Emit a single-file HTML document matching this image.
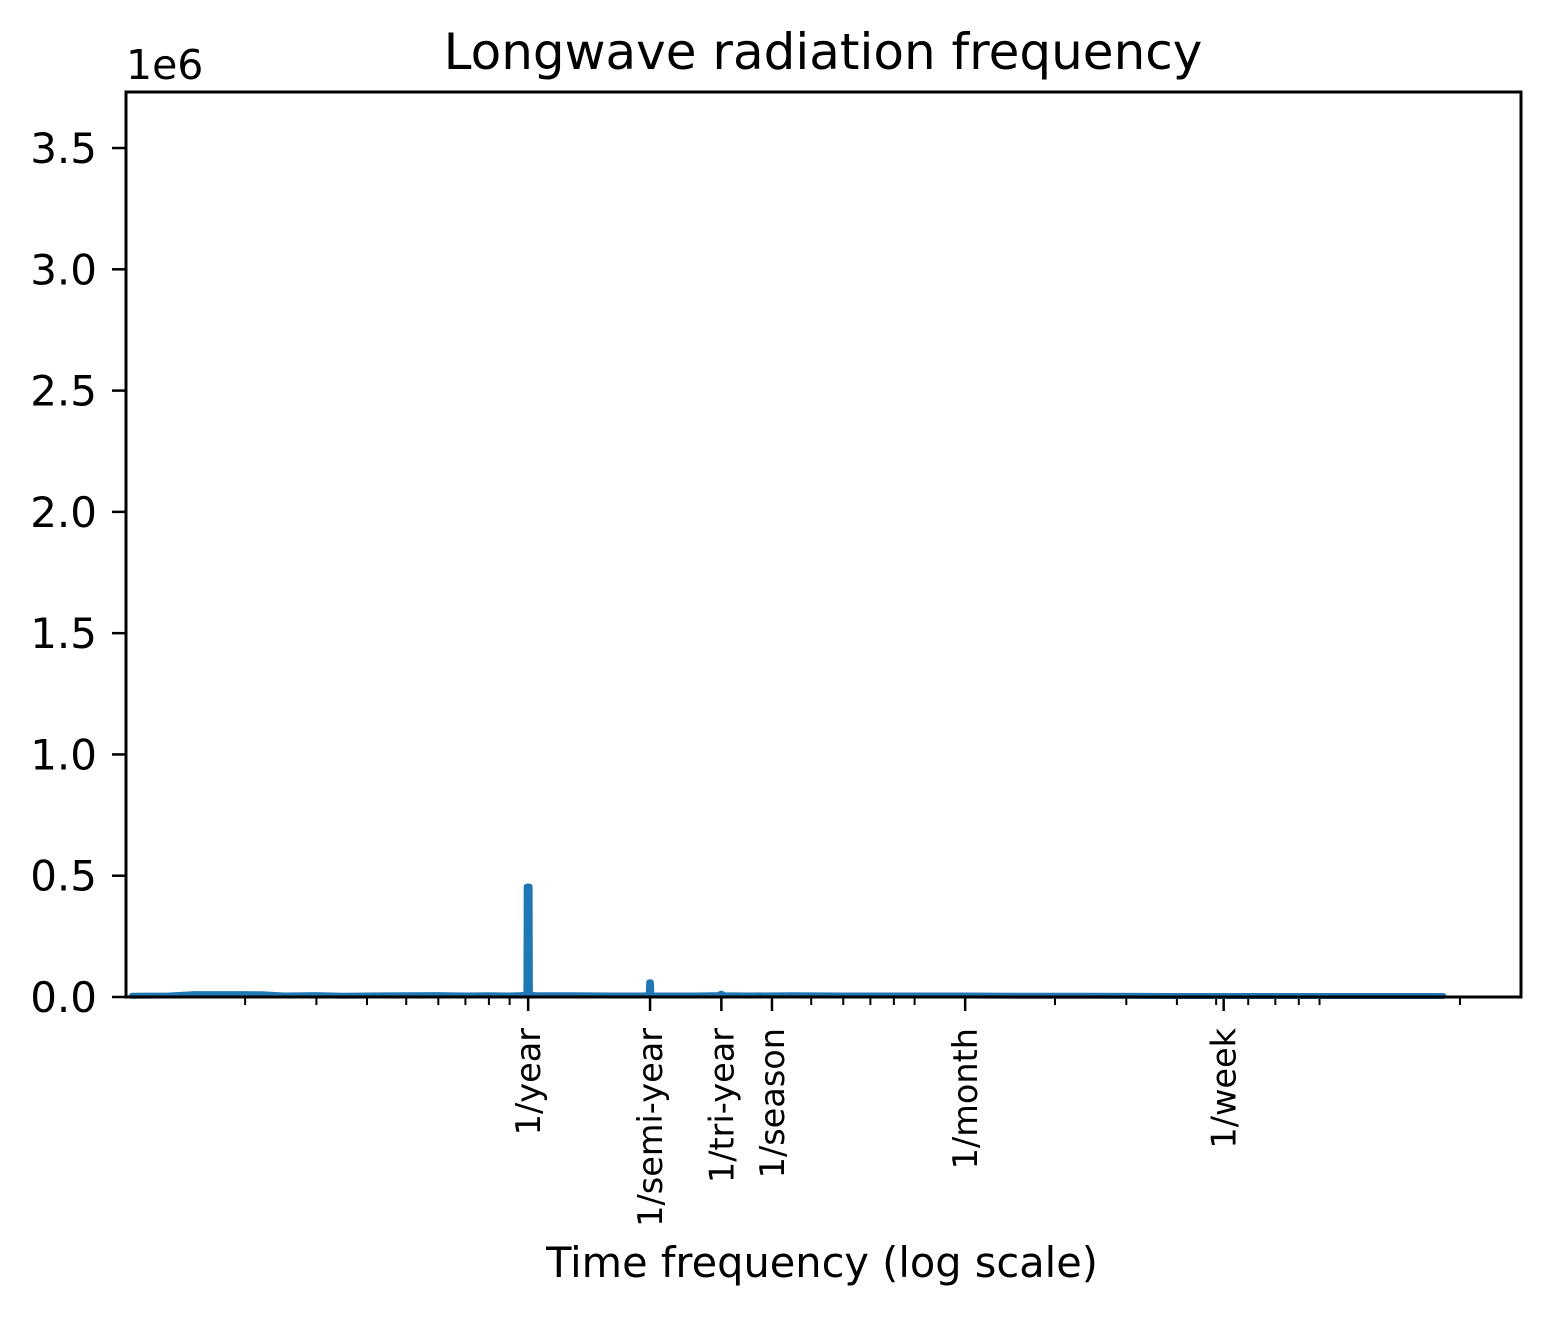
<!DOCTYPE html>
<html><head><meta charset="utf-8"><style>
body{margin:0;background:#fff;}
text{font-family:"DejaVu Sans","Liberation Sans",sans-serif;fill:#000;}
</style></head><body>
<svg id="chart" width="1550" height="1314" viewBox="0 0 1550 1314" xmlns="http://www.w3.org/2000/svg">
<rect width="1550" height="1314" fill="#fff"/>
<text x="823" y="69" font-size="50" text-anchor="middle">Longwave radiation frequency</text>
<g id="plot"></g>
<rect x="126" y="92" width="1395" height="905" fill="none" stroke="#000" stroke-width="3"/>
<text x="126" y="79" font-size="41">1e6</text>
<text x="822" y="1277" font-size="41.5" text-anchor="middle">Time frequency (log scale)</text>
</svg>
<script>
const freqs = [0.105,0.13,0.15,0.2,0.22,0.25,0.3,0.35,0.4,0.5,0.6,0.7,0.8,0.9,0.96,0.985,0.99,0.992,1.008,1.01,1.015,1.04,1.1,1.3,1.6,1.9,1.97,1.985,1.99,2.01,2.015,2.03,2.2,2.6,2.95,3.0,3.05,3.5,4.5,6,8,12,16,25,40,60,100,150,182];
const values = [0.005,0.006,0.012,0.012,0.011,0.006,0.008,0.005,0.006,0.007,0.008,0.006,0.007,0.006,0.008,0.01,0.01,0.455,0.455,0.01,0.009,0.008,0.007,0.007,0.006,0.006,0.007,0.008,0.06,0.06,0.008,0.006,0.006,0.006,0.008,0.014,0.007,0.006,0.007,0.006,0.006,0.006,0.005,0.005,0.004,0.004,0.004,0.004,0.004];
const yTicks = [0,0.5,1.0,1.5,2.0,2.5,3.0,3.5];
const yTickLabels = ["0.0","0.5","1.0","1.5","2.0","2.5","3.0","3.5"];
const xLabelFreqs = [1,2,3,4,12,52.18];
const xLabels = ["1/year","1/semi-year","1/tri-year","1/season","1/month","1/week"];
const minorTicks = [0.2,0.3,0.4,0.5,0.6,0.7,0.8,0.9,2,3,4,5,6,7,8,9,20,30,40,50,60,70,80,90,200];

const L=126,R=1521,T=92,B=997;
const xMin=Math.log10(0.1016),xMax=Math.log10(283);
const yMax=3.731;
const X=f=>L+(Math.log10(f)-xMin)/(xMax-xMin)*(R-L);
const Y=v=>B-v/yMax*(B-T);
const NS="http://www.w3.org/2000/svg";
const g=document.getElementById('plot');
function mk(t,a){const e=document.createElementNS(NS,t);for(const k in a)e.setAttribute(k,a[k]);g.appendChild(e);return e;}

yTicks.forEach((v,i)=>{
  const y=Y(v);
  const t=mk('line',{x1:L-14,x2:L,y1:y,y2:y,stroke:'#000','stroke-width':2.5});
  
  
  const lb=mk('text',{x:L-29,y:y+15,'font-size':42,'text-anchor':'end'});
  lb.textContent=yTickLabels[i];
  
  
});
minorTicks.forEach(f=>{
  const x=X(f);
  const t=mk('line',{x1:x,x2:x,y1:B,y2:B+8,stroke:'#000','stroke-width':2});
  
  
});
xLabelFreqs.forEach((f,i)=>{
  const x=X(f);
  const t=mk('line',{x1:x,x2:x,y1:B,y2:B+14,stroke:'#000','stroke-width':2.5});
  
  
  const lb=mk('text',{x:0,y:0,'font-size':33.5,'text-anchor':'end',transform:`translate(${x+12},${B+31}) rotate(-90)`});
  lb.textContent=xLabels[i];
  
  
});
const d=freqs.map((f,i)=>(i?'L':'M')+X(f).toFixed(1)+','+Y(values[i]).toFixed(1)).join('');
const p=mk('path',{d:d,fill:'none',stroke:'#1f77b4','stroke-width':6,'stroke-linejoin':'round','stroke-linecap':'round'});


</script>
</body></html>
